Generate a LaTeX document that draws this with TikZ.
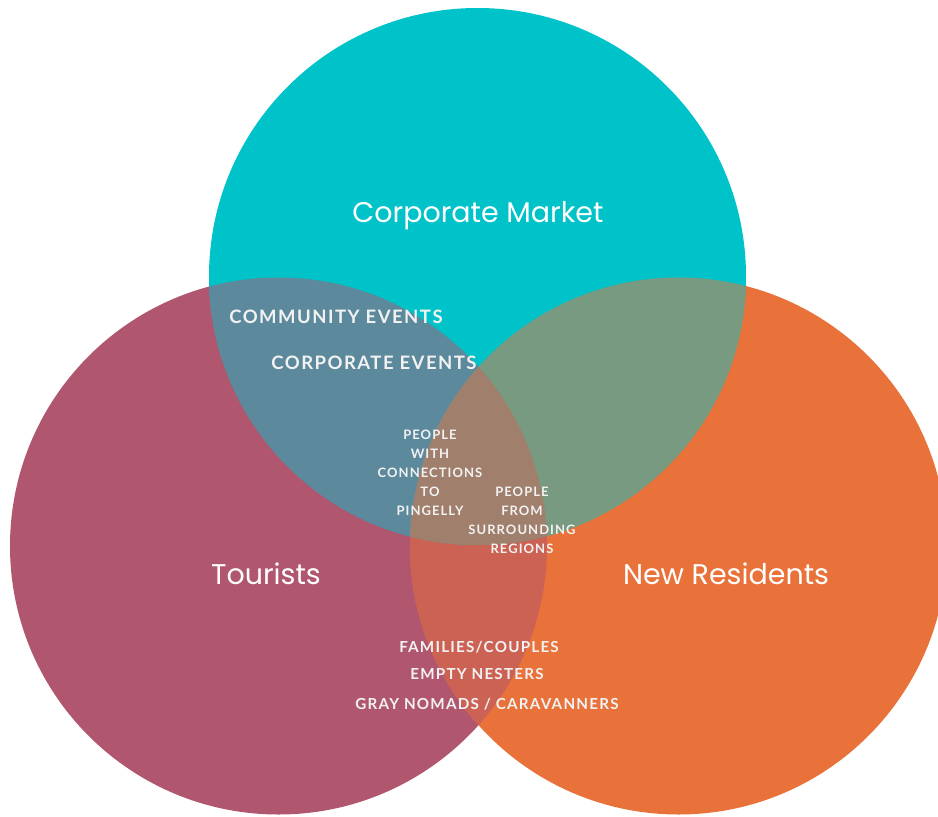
\documentclass[tikz,border=0pt]{standalone}
\usepackage{fontspec}
\newfontfamily\bigf{Poppins}
\newfontfamily\capf[LetterSpace=8]{Lato Bold}
\definecolor{cteal}{HTML}{00C2C9}
\definecolor{cmaroon}{HTML}{B0566E}
\definecolor{corange}{HTML}{E8723A}
\definecolor{ctm}{HTML}{5C8A9C}
\definecolor{cto}{HTML}{789A80}
\definecolor{cmo}{HTML}{CC6254}
\definecolor{call}{HTML}{A07F6C}
\definecolor{ctext}{HTML}{F2F2F2}
\tikzset{
  biglabel/.style={text=white,font=\bigf\fontsize{28.5}{32}\selectfont,inner sep=0pt},
  caplabel/.style={text=ctext,font=\capf\fontsize{18.5}{22}\selectfont,inner sep=0pt},
  smallcap/.style={text=ctext,font=\capf\fontsize{13}{19}\selectfont,inner sep=0pt,align=center},
  midcap/.style={text=ctext,font=\capf\fontsize{15.2}{18}\selectfont,inner sep=0pt}
}
\begin{document}
\begin{tikzpicture}[x=1pt,y=-1pt]
\useasboundingbox (0,0) rectangle (938,817);
\coordinate (T) at (477.5,276.5);
\coordinate (L) at (278.5,546);
\coordinate (R) at (678.5,546);
\def\rr{268.5}
% base circles
\fill[cmaroon] (L) circle (\rr);
\fill[corange] (R) circle (\rr);
\fill[cteal] (T) circle (\rr);
% pairwise overlaps
\begin{scope}\clip (L) circle (\rr); \fill[cmo] (R) circle (\rr);\end{scope}
\begin{scope}\clip (T) circle (\rr); \fill[ctm] (L) circle (\rr);\end{scope}
\begin{scope}\clip (T) circle (\rr); \fill[cto] (R) circle (\rr);\end{scope}
% triple overlap
\begin{scope}\clip (T) circle (\rr); \clip (L) circle (\rr); \fill[call] (R) circle (\rr);\end{scope}
% labels
\node[biglabel] (cm) at (478,216) {Corporate Market};
\node[biglabel] (tour) at (266,574) {Tourists};
\node[biglabel] (nr) at (726,574) {New Residents};
\node[caplabel] (ce1) at (336,317) {COMMUNITY EVENTS};
\node[caplabel] (ce2) at (374,363) {CORPORATE EVENTS};
\node[smallcap,anchor=north] (pw) at (430,430) {PEOPLE\\WITH\\CONNECTIONS\\TO\\PINGELLY};
\node[smallcap,anchor=north] (pf) at (522,487) {PEOPLE\\FROM\\SURROUNDING\\REGIONS};
\node[midcap] (fam) at (479,647) {FAMILIES/COUPLES};
\node[midcap] (emp) at (477,674) {EMPTY NESTERS};
\node[midcap] (gray) at (487,704) {GRAY NOMADS / CARAVANNERS};
\end{tikzpicture}
\end{document}
